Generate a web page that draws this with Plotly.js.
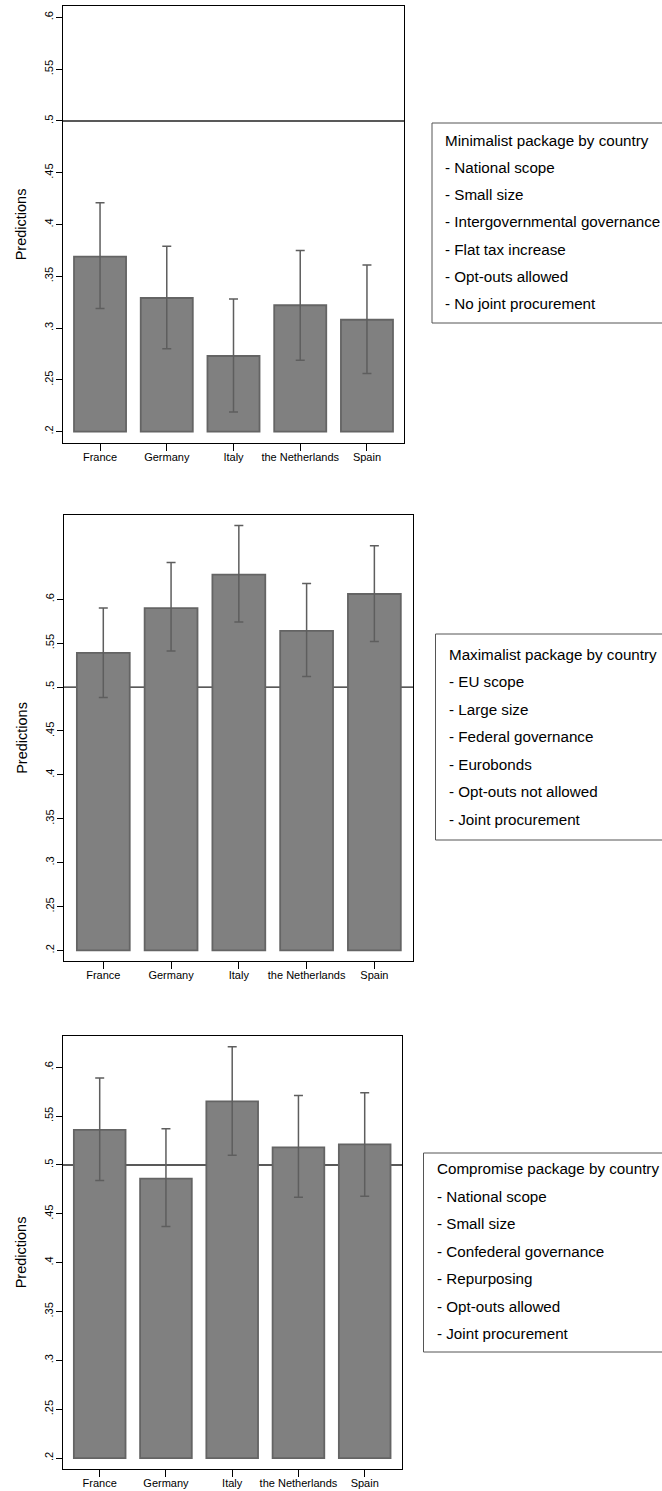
<!DOCTYPE html>
<html>
<head>
<meta charset="utf-8">
<script src="https://cdn.plot.ly/plotly-3.0.1.min.js"></script>
<style>
html,body{margin:0;padding:0;background:#fff;}
#chart{width:662px;height:1491px;}
</style>
</head>
<body>
<div id="chart"></div>
<script>
// ---- data ----
const countries = ['France', 'Germany', 'Italy', 'the Netherlands', 'Spain'];

const minimalistMean  = [0.369, 0.329, 0.273, 0.322, 0.308];
const minimalistLower = [0.319, 0.280, 0.219, 0.269, 0.256];
const minimalistUpper = [0.421, 0.379, 0.328, 0.375, 0.361];

const maximalistMean  = [0.539, 0.590, 0.628, 0.564, 0.606];
const maximalistLower = [0.488, 0.541, 0.574, 0.512, 0.552];
const maximalistUpper = [0.590, 0.642, 0.684, 0.618, 0.661];

const compromiseMean  = [0.536, 0.486, 0.565, 0.518, 0.521];
const compromiseLower = [0.484, 0.437, 0.510, 0.467, 0.468];
const compromiseUpper = [0.589, 0.537, 0.621, 0.571, 0.574];

const yTickVals = [0.2, 0.25, 0.3, 0.35, 0.4, 0.45, 0.5, 0.55, 0.6];
const yTickText = ['.2', '.25', '.3', '.35', '.4', '.45', '.5', '.55', '.6'];
const barBase = 0.2;
const referenceValue = 0.5;
const yTitle = 'Predictions';

const minimalistLegend = ['Minimalist package by country', '- National scope', '- Small size',
  '- Intergovernmental governance', '- Flat tax increase', '- Opt-outs allowed', '- No joint procurement'];
const maximalistLegend = ['Maximalist package by country', '- EU scope', '- Large size',
  '- Federal governance', '- Eurobonds', '- Opt-outs not allowed', '- Joint procurement'];
const compromiseLegend = ['Compromise package by country', '- National scope', '- Small size',
  '- Confederal governance', '- Repurposing', '- Opt-outs allowed', '- Joint procurement'];

// ---- layout helpers (pixel geometry) ----
const W = 662, H = 1491;
const FONT = 'Liberation Sans, Arial, Helvetica, sans-serif';
const px = x => x / W;
const py = y => 1 - y / H;

const panels = [
  {mean: minimalistMean, lo: minimalistLower, hi: minimalistUpper, legend: minimalistLegend,
   box: {l: 63, r: 404, t: 6, b: 443}, yr: [0.189, 0.611], xr: [-0.555, 4.555],
   lbox: {l: 432, t: 123, b: 323, text0: 140, step: 27.33}},
  {mean: maximalistMean, lo: maximalistLower, hi: maximalistUpper, legend: maximalistLegend,
   box: {l: 64, r: 413, t: 515, b: 961}, yr: [0.188, 0.696], xr: [-0.58, 4.57],
   lbox: {l: 435.5, t: 634, b: 840, text0: 654, step: 27.5}},
  {mean: compromiseMean, lo: compromiseLower, hi: compromiseUpper, legend: compromiseLegend,
   box: {l: 63, r: 402, t: 1036, b: 1469}, yr: [0.1888, 0.632], xr: [-0.554, 4.563],
   lbox: {l: 423.5, t: 1153, b: 1352, text0: 1168.5, step: 27.5}}
];

const data = [];
const layout = {
  width: W, height: H,
  margin: {l: 0, r: 0, t: 0, b: 0},
  paper_bgcolor: '#ffffff', plot_bgcolor: '#ffffff',
  showlegend: false,
  font: {family: FONT, color: '#000'},
  shapes: [], annotations: []
};

panels.forEach((p, i) => {
  const n = i === 0 ? '' : String(i + 1);
  const xa = 'x' + n, ya = 'y' + n;
  data.push({
    type: 'bar', x: countries, y: p.mean.map(v => v - barBase), base: barBase,
    xaxis: xa, yaxis: ya, width: 0.78,
    marker: {color: '#808080', line: {color: '#646464', width: 1.8}},
    hoverinfo: 'skip'
  });
  data.push({
    type: 'scatter', mode: 'markers', x: countries, y: p.mean, xaxis: xa, yaxis: ya,
    marker: {size: 1, color: 'rgba(0,0,0,0)'},
    error_y: {type: 'data', symmetric: false,
      array: p.hi.map((v, k) => v - p.mean[k]),
      arrayminus: p.mean.map((v, k) => v - p.lo[k]),
      color: '#5e5e5e', thickness: 1.5, width: 4.5},
    hoverinfo: 'skip'
  });
  layout['xaxis' + n] = {
    domain: [px(p.box.l), px(p.box.r)], anchor: ya, range: p.xr,
    type: 'category', showgrid: false, zeroline: false,
    showline: true, linecolor: '#000', linewidth: 1, mirror: true,
    ticks: 'outside', ticklen: 7, tickcolor: '#000', tickwidth: 1,
    ticklabelstandoff: -3,
    tickfont: {family: FONT, size: 11, color: '#000'}, fixedrange: true
  };
  layout['yaxis' + n] = {
    domain: [py(p.box.b), py(p.box.t)], anchor: xa, range: p.yr,
    showgrid: false, zeroline: false,
    showline: true, linecolor: '#000', linewidth: 1, mirror: true,
    ticks: 'outside', ticklen: 6, tickcolor: '#000', tickwidth: 1,
    tickmode: 'array', tickvals: yTickVals, ticktext: yTickText, tickangle: -90,
    ticklabelstandoff: -1,
    tickfont: {family: FONT, size: 11, color: '#000'},
    title: {text: yTitle, font: {family: FONT, size: 14.5, color: '#000'}, standoff: 12},
    automargin: false, fixedrange: true
  };
  layout.shapes.push({
    type: 'line', xref: xa + ' domain', yref: ya, x0: 0, x1: 1,
    y0: referenceValue, y1: referenceValue, layer: 'below',
    line: {color: '#222', width: 1.4}
  });
  layout.shapes.push({
    type: 'rect', xref: 'paper', yref: 'paper',
    x0: px(p.lbox.l), x1: px(W + 3), y0: py(p.lbox.b), y1: py(p.lbox.t),
    line: {color: '#555', width: 1}, fillcolor: 'rgba(0,0,0,0)'
  });
  p.legend.forEach((t, k) => {
    layout.annotations.push({
      xref: 'paper', yref: 'paper', x: px(p.lbox.l + 11), y: py(p.lbox.text0 + k * p.lbox.step),
      xanchor: 'left', yanchor: 'middle', showarrow: false, text: t,
      font: {family: FONT, size: 15.2, color: '#000'}
    });
  });
});

Plotly.newPlot('chart', data, layout, {displayModeBar: false, staticPlot: true});
</script>
</body>
</html>
